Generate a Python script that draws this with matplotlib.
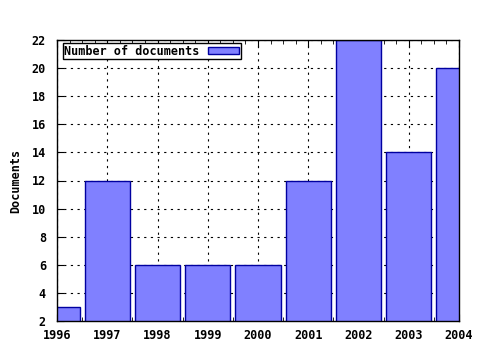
import numpy as np
import matplotlib
matplotlib.use('Agg')
import matplotlib.pyplot as plt
from matplotlib.ticker import MultipleLocator

years = [1996, 1997, 1998, 1999, 2000, 2001, 2002, 2003, 2004]
docs = [3, 12, 6, 6, 6, 12, 22, 14, 20]
y_ticks = [2, 4, 6, 8, 10, 12, 14, 16, 18, 20, 22]

plt.rcParams['font.family'] = 'DejaVu Sans Mono'
plt.rcParams['font.weight'] = 'bold'
plt.rcParams['axes.labelweight'] = 'bold'
plt.rcParams['font.size'] = 8.5

fig = plt.figure(figsize=(4.8, 3.5), dpi=100)
ax = fig.add_axes([57/480, 1-321/350, (459-57)/480, (321-40)/350])

# grid first, bars over it
ax.grid(True, which='major', color='black', linestyle=(0, (2, 4)), linewidth=0.8)
ax.set_axisbelow(True)

ax.bar(years, docs, width=0.9, color='#8080ff', edgecolor='#0000a0',
       linewidth=1.0, label='Number of documents', zorder=2)

ax.set_xlim(1996, 2004)
ax.set_ylim(2, 22)
ax.set_xticks(years)
ax.set_xticklabels([str(y) for y in years])
ax.set_yticks(y_ticks)
ax.xaxis.set_minor_locator(MultipleLocator(0.25))

ax.tick_params(axis='x', which='both', direction='in', top=True, bottom=True, pad=6)
ax.tick_params(axis='x', which='major', length=5)
ax.tick_params(axis='x', which='minor', length=3)
ax.tick_params(axis='y', which='major', direction='in', left=True, right=False, length=5, pad=8)
for s in ax.spines.values():
    s.set_linewidth(1.0)

ax.set_ylabel('Documents', labelpad=7)

leg = ax.legend(loc='upper left', bbox_to_anchor=(0.014, 0.99), frameon=True,
                fancybox=False, edgecolor='black', framealpha=1,
                markerfirst=False, handlelength=2.6, handleheight=0.55,
                borderpad=0.15, handletextpad=0.7, borderaxespad=0)
leg.get_frame().set_linewidth(1.0)

fig.savefig('out.png', dpi=100)
